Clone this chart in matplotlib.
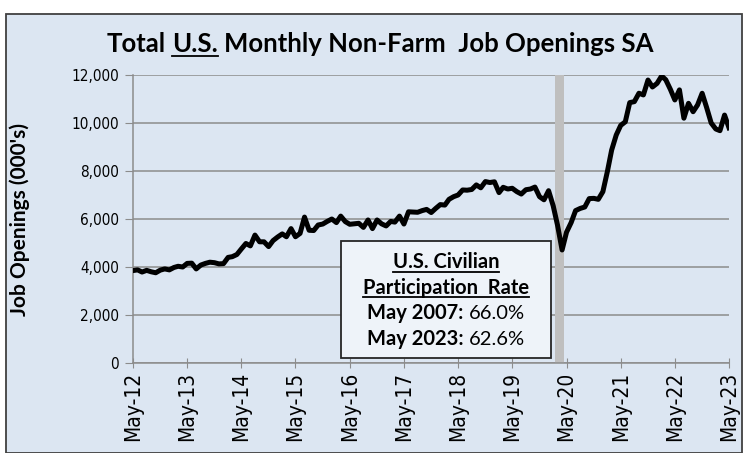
import matplotlib
matplotlib.use("Agg")
import matplotlib.pyplot as plt
import matplotlib.dates as mdates
from matplotlib.patches import Rectangle
from matplotlib.lines import Line2D
from matplotlib.ticker import FuncFormatter
import pandas as pd

plt.rcParams["font.family"] = "DejaVu Sans"
plt.rcParams["font.stretch"] = "condensed"

# monthly job openings, thousands, May 2012 .. May 2023
months = pd.date_range("2012-05-01", "2023-05-01", freq="MS")
openings = [3850, 3880, 3790, 3860, 3800, 3760, 3870, 3920, 3880, 3980, 4030, 4000,
            4150, 4160, 3920, 4080, 4150, 4200, 4180, 4130, 4140, 4400, 4430, 4520,
            4750, 4980, 4880, 5330, 5050, 5050, 4850, 5100, 5250, 5380, 5260, 5600,
            5260, 5400, 6080, 5530, 5520, 5750, 5790, 5900, 6000, 5850, 6120, 5890,
            5780, 5800, 5820, 5650, 5960, 5600, 5960, 5800, 5710, 5900, 5870, 6120,
            5790, 6300, 6290, 6280, 6350, 6400, 6270, 6440, 6600, 6580, 6820, 6930,
            7000, 7210, 7200, 7230, 7420, 7300, 7560, 7520, 7550, 7100, 7320, 7250,
            7280, 7140, 7040, 7220, 7250, 7330, 6930, 6800, 7180, 6550, 5750, 4710,
            5450, 5850, 6350, 6440, 6500, 6850, 6860, 6820, 7140, 8000, 8870, 9500,
            9900, 10050, 10850, 10890, 11240, 11170, 11790, 11500, 11650, 11960, 11800, 11400,
            10960, 11380, 10200, 10820, 10470, 10750, 11240, 10650, 10000, 9750, 9680, 10330,
            9800]

recession_start = pd.Timestamp("2020-02-15")
recession_end = pd.Timestamp("2020-04-12")
tick_dates = pd.date_range("2012-05-01", "2023-05-01", freq="12MS")
y_ticks = [0, 2000, 4000, 6000, 8000, 10000, 12000]

title_runs = [("Total", "bold", False), (" U.S.", "bold", True),
              (" Monthly Non-Farm  Job Openings SA", "bold", False)]
box_rows = [
    [("U.S. Civilian", "bold", True)],
    [("Participation  Rate", "bold", True)],
    [("May 2007:", "bold", False), (" 66.0%", "normal", False)],
    [("May 2023:", "bold", False), (" 62.6%", "normal", False)],
]

W, H = 744, 453
bg = "#DCE6F2"
label_font = "Lato"

fig = plt.figure(figsize=(W / 100, H / 100), dpi=100, facecolor="white")
fig.patches.append(Rectangle((6 / W, 0), 736 / W, 1 - 14 / H, transform=fig.transFigure,
                             facecolor=bg, edgecolor="#404040", linewidth=1.3, zorder=-5))

ax = fig.add_axes([133 / W, 1 - 363 / H, 596 / W, 288 / H])
ax.set_zorder(1)
ax.set_facecolor(bg)
ax.axvspan(recession_start, recession_end, color="#BFBFBF", zorder=1, lw=0)
ax.plot(months, openings, color="black", lw=3.6, zorder=3, solid_joinstyle="round")

ax.set_xlim(months[0], months[-1])
ax.set_ylim(0, 12000)
ax.set_yticks(y_ticks)
ax.yaxis.set_major_formatter(FuncFormatter(lambda v, p: f"{int(v):,}"))
ax.set_xticks(tick_dates)
ax.xaxis.set_major_formatter(mdates.DateFormatter("%b-%y"))
ax.grid(axis="y", color="#8C8C8C", lw=1.1, zorder=0)
ax.set_axisbelow(True)
for s in ["top", "right"]:
    ax.spines[s].set_visible(False)
for s in ["left", "bottom"]:
    ax.spines[s].set_color("#8C8C8C")
    ax.spines[s].set_linewidth(1.1)
ax.tick_params(axis="y", direction="out", length=6, color="#8C8C8C", pad=4, labelsize=11)
ax.tick_params(axis="x", direction="inout", length=7, color="#8C8C8C", pad=3, labelsize=15,
               labelrotation=90)
ax.set_ylabel("Job Openings (000's)", family=label_font, fontweight="bold", fontsize=15)
ax.yaxis.set_label_coords(-0.172, 0.5)

renderer = fig.canvas.get_renderer()


def run_width(text, weight, size):
    a = fig.text(0, 0, "x" + text + "x", family=label_font, fontweight=weight, fontsize=size)
    b = fig.text(0, 0, "xx", family=label_font, fontweight=weight, fontsize=size)
    w = a.get_window_extent(renderer).width - b.get_window_extent(renderer).width
    a.remove()
    b.remove()
    return w


def draw_runs(xc, y, runs, size):
    # xc, y in pixels from top-left; y is the baseline
    widths = [run_width(t, wt, size) for t, wt, u in runs]
    x = xc - sum(widths) / 2
    for (t, wt, u), w in zip(runs, widths):
        body = t.lstrip(" ")
        lead = run_width(t[:len(t) - len(body)], wt, size) if body != t else 0
        fig.text((x + lead) / W, 1 - y / H, body, family=label_font, fontweight=wt,
                 fontsize=size, ha="left", va="baseline", zorder=6)
        if u:
            bw = run_width(body, wt, size)
            fig.add_artist(Line2D([(x + lead) / W, (x + lead + bw) / W],
                                  [1 - (y + 3.5) / H, 1 - (y + 3.5) / H],
                                  color="black", lw=1.3, zorder=6))
        x += w


draw_runs(380, 52, title_runs, 18.5)

fig.patches.append(Rectangle((341 / W, 1 - 358 / H), 210 / W, 117 / H, transform=fig.transFigure,
                             facecolor="#EEF3F9", edgecolor="#262626", linewidth=1.3, zorder=5))
for i, row in enumerate(box_rows):
    draw_runs(446, 268 + 25.7 * i, row, 14.5)

fig.savefig("out.png", dpi=100, facecolor="white")
